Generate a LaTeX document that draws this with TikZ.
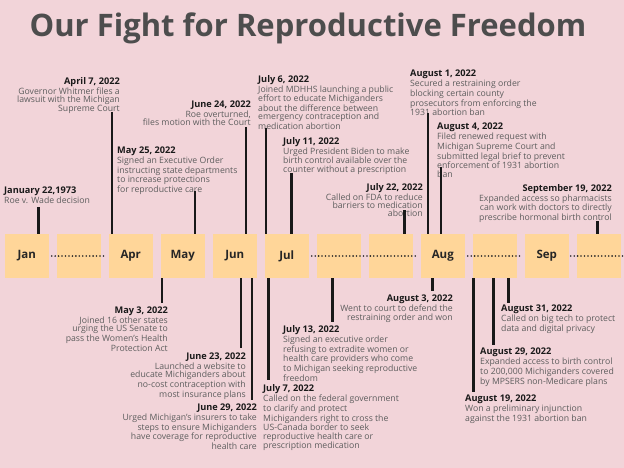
\documentclass[tikz,border=0pt]{standalone}
\usepackage{fontspec}
\setmainfont{Open Sans}
\usetikzlibrary{positioning}
\definecolor{PinkBg}{HTML}{F2D4D9}
\definecolor{MonthPeach}{HTML}{FFD699}
\definecolor{TitleGray}{HTML}{4D4D4D}
\definecolor{BodyGray}{HTML}{5E5E5E}
\newcommand{\evdate}[1]{{\fontsize{9.2}{8.3}\selectfont\bfseries\color{black!90}#1}}

\begin{document}
\begin{tikzpicture}[x=1pt,y=-1pt,
  month/.style={fill=MonthPeach,minimum width=43.5pt,minimum height=44pt,inner sep=0pt,font=\fontsize{11.5}{12}\selectfont\bfseries,text=black!85},
  evl/.style={inner sep=0pt,align=left,font=\fontsize{8.7}{8.3}\selectfont,text=BodyGray},
  evr/.style={evl,align=right},
  tick/.style={line width=2.6pt,black!90},
  dotrow/.style={line width=1.8pt,line cap=round,dash pattern=on 0pt off 3.45pt,black!85}
]
  \fill[PinkBg] (0,0) rectangle (624,468);
  \useasboundingbox (0,0) rectangle (624,468);
  \node[font=\fontsize{31}{34}\selectfont\bfseries,text=TitleGray,anchor=base,inner sep=0pt] (title) at (308,37) {Our Fight for Reproductive Freedom};

  % month boxes
  \foreach \name/\lbl [count=\i from 0] in {jan/Jan,dotsa/,apr/Apr,may/May,jun/Jun,jul/Jul,dotsb/,dotsc/,aug/Aug,dotsd/,sep/Sep,dotse/}
    \node[month] (\name) at (26.75+52*\i,256) {\lbl};
  \draw[dotrow] ([xshift=3pt]jan.east) -- ([xshift=-3pt]apr.west);
  \draw[dotrow] ([xshift=3pt]jul.east) -- ([xshift=-4pt]aug.west);
  \draw[dotrow] ([xshift=3pt]aug.east) -- ([xshift=-3pt]sep.west);
  \draw[dotrow] ([xshift=2pt]sep.east) -- ([xshift=2pt]dotse.east);

  % events above the line
  \node[evl,anchor=north west] (jan22) at (4,187) {\evdate{January 22,1973}\\Roe v. Wade decision};
  \node[evr,anchor=north east] (apr7) at (120,77) {\evdate{April 7, 2022}\\Governor Whitmer files a\\lawsuit with the Michigan\\Supreme Court};
  \node[evl,anchor=north west] (may25) at (117,147) {\evdate{May 25, 2022}\\Signed an Executive Order\\instructing state departments\\to increase protections\\for reproductive care};
  \node[evr,anchor=north east] (jun24) at (251,101) {\evdate{June 24, 2022}\\Roe overturned,\\files motion with the Court};
  \node[evl,anchor=north west] (jul6) at (258,75) {\evdate{July 6, 2022}\\Joined MDHHS launching a public\\effort to educate Michiganders\\about the difference between\\emergency contraception and\\medication abortion};
  \node[evl,anchor=north west] (jul11) at (283,137) {\evdate{July 11, 2022}\\Urged President Biden to make\\birth control available over the\\counter without a prescription};
  \node[evr,anchor=north east] (jul22) at (423,183) {\evdate{July 22, 2022}\\Called on FDA to reduce\\barriers to medication\\abortion};
  \node[evl,anchor=north west] (aug1) at (410,70) {\evdate{August 1, 2022}\\Secured a restraining order\\blocking certain county\\prosecutors from enforcing the\\1931 abortion ban};
  \node[evl,anchor=north west] (aug4) at (437,123) {\evdate{August 4, 2022}\\Filed renewed request with\\Michigan Supreme Court and\\submitted legal brief to prevent\\enforcement of 1931 abortion\\ban};
  \node[evr,anchor=north east] (sep19) at (612,184) {\evdate{September 19, 2022}\\Expanded access so pharmacists\\can work with doctors to directly\\prescribe hormonal birth control};

  % events below the line
  \node[evr,anchor=north east] (may3) at (168,307) {\evdate{May 3, 2022}\\Joined 16 other states\\urging the US Senate to\\pass the Women’s Health\\Protection Act};
  \node[evr,anchor=north east] (jun23) at (246,353) {\evdate{June 23, 2022}\\Launched a website to\\educate Michiganders about\\no-cost contraception with\\most insurance plans};
  \node[evr,anchor=north east] (jun29) at (257,404) {\evdate{June 29, 2022}\\Urged Michigan’s insurers to take\\steps to ensure Michiganders\\have coverage for reproductive\\health care};
  \node[evl,anchor=north west] (jul7) at (263,384.5) {\evdate{July 7, 2022}\\Called on the federal government\\to clarify and protect\\Michiganders right to cross the\\US-Canada border to seek\\reproductive health care or\\prescription medication};
  \node[evl,anchor=north west] (jul13) at (283,325.5) {\evdate{July 13, 2022}\\Signed an executive order\\refusing to extradite women or\\health care providers who come\\to Michigan seeking reproductive\\freedom};
  \node[evr,anchor=north east] (aug3) at (453,295) {\evdate{August 3, 2022}\\Went to court to defend the\\restraining order and won};
  \node[evl,anchor=north west] (aug19) at (465,395) {\evdate{August 19, 2022}\\Won a preliminary injunction\\against the 1931 abortion ban};
  \node[evl,anchor=north west] (aug29) at (480,348) {\evdate{August 29, 2022}\\Expanded access to birth control\\to 200,000 Michiganders covered\\by MPSERS non-Medicare plans};
  \node[evl,anchor=north west] (aug31) at (501,305) {\evdate{August 31, 2022}\\Called on big tech to protect\\data and digital privacy};

  % ticks
  \foreach \x/\y in {38.5/207,112/112,195/191,246/127,266/128,291.5/173,404.5/210,428/113,441/167,597.5/221}
    \draw[tick] (\x,\y) -- (\x,\y |- jan.north);
  \foreach \x/\y in {162/303,241/348,252/400,268.5/380,332.5/322,432.5/291,473.5/392,493.5/345,508.5/303}
    \draw[tick] (\x,\y |- jan.south) -- (\x,\y);
\end{tikzpicture}
\end{document}
